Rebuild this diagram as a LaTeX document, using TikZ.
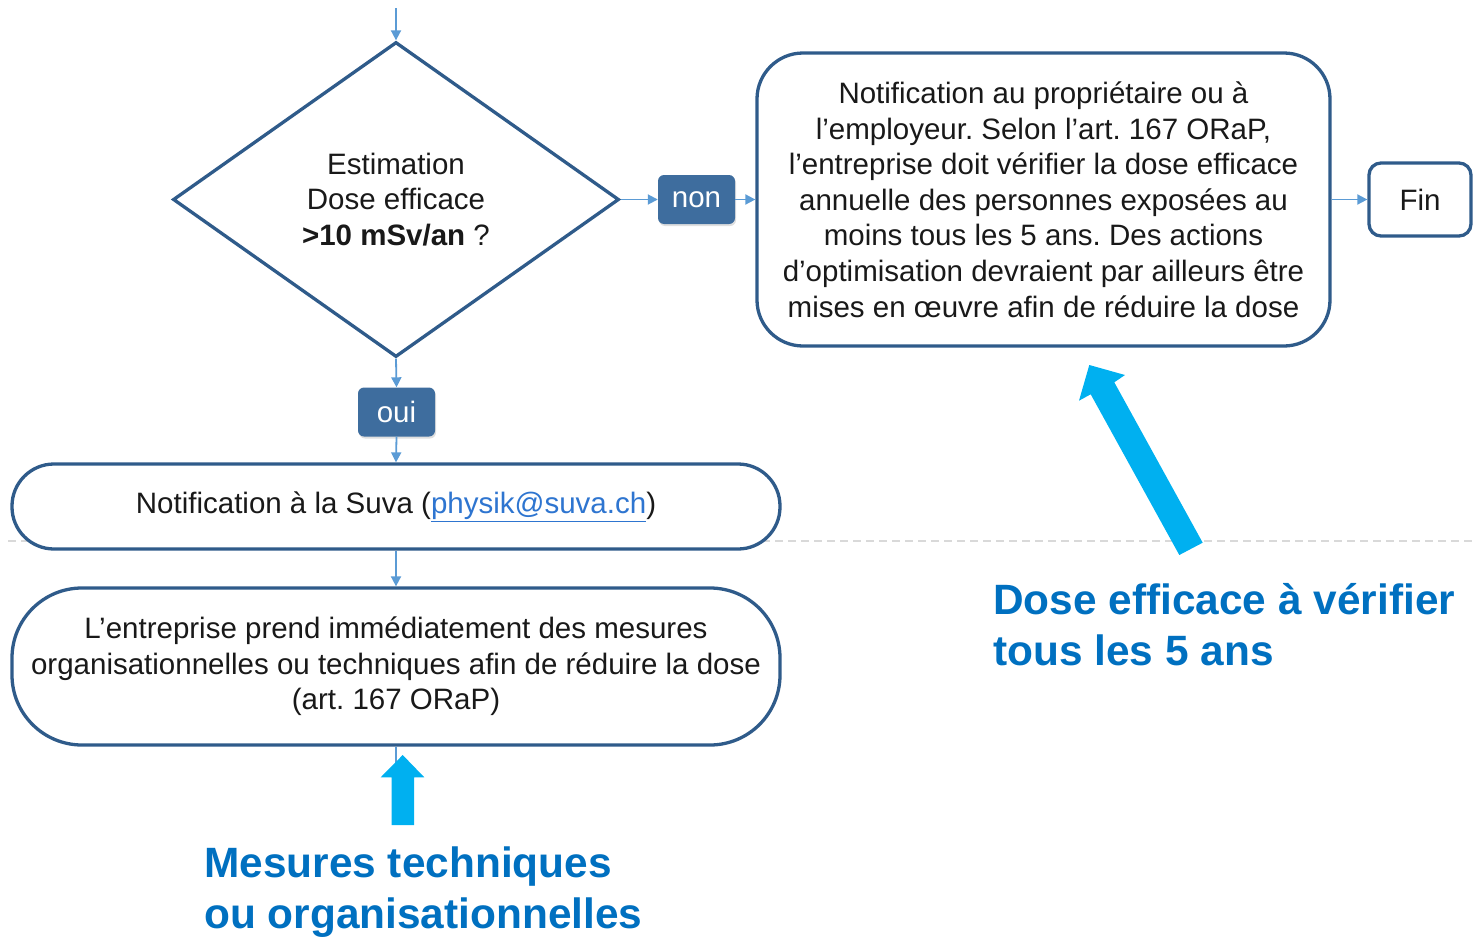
\documentclass[tikz,border=0pt]{standalone}
\usepackage{fontspec}
\setmainfont{Liberation Sans}
\usetikzlibrary{shapes.geometric,arrows.meta,shadows}
\definecolor{boxline}{HTML}{2F5B8A}
\definecolor{lblfill}{HTML}{3E6D9E}
\definecolor{connc}{HTML}{5B9BD5}
\definecolor{cyanarrow}{HTML}{00B0F0}
\definecolor{bluetext}{HTML}{0070C0}
\definecolor{linkblue}{HTML}{2E75D0}
\definecolor{dashgray}{HTML}{D9D9D9}
\frenchspacing
\begin{document}
\begin{tikzpicture}[x=1pt,y=-1pt,
  txt/.style={font=\fontsize{29.5}{35.6}\selectfont, text=black!90, align=center},
  box/.style={draw=boxline, line width=3.3pt, fill=white, rounded corners=#1, inner sep=0pt, txt},
  lbl/.style={fill=lblfill, rounded corners=6pt, text=white, font=\fontsize{29.5}{34}\selectfont,
    minimum width=77pt, minimum height=49pt, inner sep=0pt,
    drop shadow={opacity=0.25, shadow xshift=1pt, shadow yshift=-2pt}},
  conn/.style={draw=connc, line width=1.8pt, -{Triangle[length=10pt,width=10pt]}},
  stub/.style={draw=connc, line width=1.8pt},
  bigarrow/.style={fill=cyanarrow},
  callout/.style={text=bluetext, font=\bfseries\fontsize{42.4}{51}\selectfont, align=left, anchor=base west, inner sep=0pt}]
\useasboundingbox (0,0) rectangle (1473,937);
% dashed separator
\draw[dashgray, line width=1.5pt, dash pattern=on 8pt off 5pt] (8,541) -- (1473,541);

% nodes
\node[diamond, draw=boxline, line width=3.3pt, fill=white, minimum width=446pt, minimum height=315pt,
  inner sep=0pt, txt] (est) at (396,199.5) {Estimation\\Dose efficace\\\textbf{>10 mSv/an} ?};
\node[lbl] (non) at (696.5,199.5) {non};
\node[box=46pt, minimum width=573pt, minimum height=293pt] (note) at (1043.5,199.5)
  {Notification au propriétaire ou à\\l’employeur. Selon l’art. 167 ORaP,\\l’entreprise doit vérifier la dose efficace\\annuelle des personnes exposées au\\moins tous les 5 ans. Des actions\\d’optimisation devraient par ailleurs être\\mises en œuvre afin de réduire la dose};
\node[box=12pt, minimum width=102pt, minimum height=73pt] (fin) at (1420,199.5) {Fin};
\node[lbl] (oui) at (396.5,412) {oui};
\node[box=42pt, minimum width=768pt, minimum height=85pt] (suva) at (396,506.5)
  {Notification à la Suva ({\color{linkblue}\underline{physik@suva.ch}})};
\node[box=70pt, minimum width=768pt, minimum height=157pt] (mes) at (396,666.5)
  {L’entreprise prend immédiatement des mesures\\organisationnelles ou techniques afin de réduire la dose\\(art. 167 ORaP)};

% connectors
\coordinate (top) at (396,8);
\coordinate (low) at (396,765);
\draw[conn] (top) -- (est.north);
\draw[conn] (est.east) -- (non.west);
\draw[conn] (non.east) -- (note.west);
\draw[conn] (note.east) -- (fin.west);
\draw[conn] (est.south) -- (oui.north);
\draw[conn] (oui.south) -- (suva.north);
\draw[conn] (suva.south) -- (mes.north);
\draw[stub] (mes.south) -- (low);

% cyan block arrows
\fill[bigarrow] (391.7,825) -- (391.7,777.3) -- (380.7,777.3) -- (402.7,755) -- (424.3,777.3)
  -- (414,777.3) -- (414,825) -- cycle;
\fill[bigarrow] (1179.3,555) -- (1090.7,394.3) -- (1079,400.7) -- (1089.3,365) -- (1125,375)
  -- (1114.3,382.3) -- (1202.7,542.7) -- cycle;

% callouts
\node[callout] (c1) at (993,665) {Dose efficace à vérifier\\tous les 5 ans};
\node[callout] (c2) at (204,928) {Mesures techniques\\ou organisationnelles};
\end{tikzpicture}
\end{document}
